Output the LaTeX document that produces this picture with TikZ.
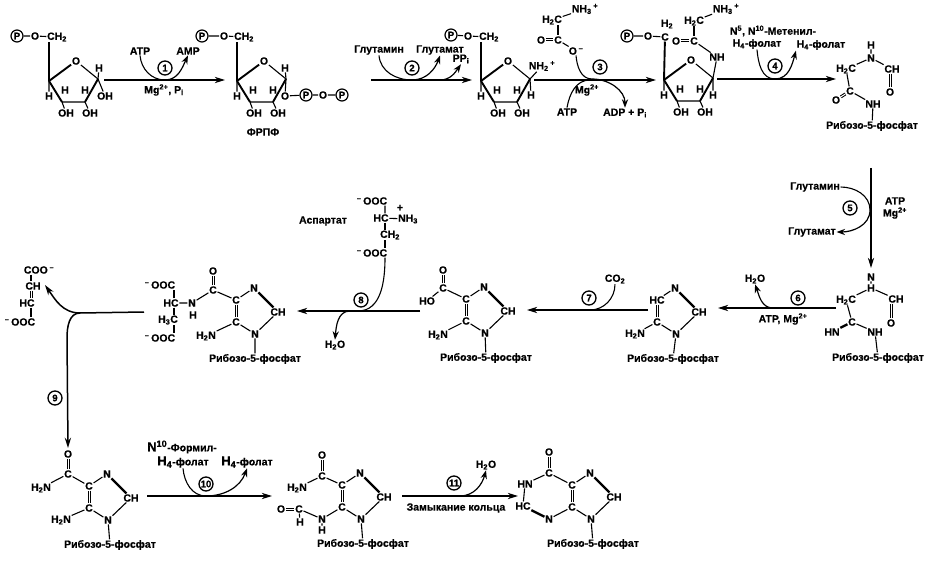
\documentclass[tikz,border=0pt]{standalone}
\usepackage{fontspec}
\setmainfont{Liberation Sans}[BoldFeatures={FakeBold=0.5}]
\usetikzlibrary{arrows.meta}
\newcommand{\sbs}[1]{\textsubscript{#1}}
\newcommand{\sps}[1]{\textsuperscript{#1}}
\newcommand{\ribo}{Рибозо-5-фосфат}
\newcommand{\folat}{H\sbs{4}-фолат}
% ribose ring, c4 at (#1,#2), names prefixed with #3
\newcommand{\furanose}[3]{%
  \begin{scope}[shift={(#1,#2)}]
  \coordinate (#3c4) at (0,0);
  \node[atom] (#3o) at (27,-20) {O};
  \coordinate (#3c1) at (49,-2);
  \coordinate (#3c2) at (36,21);
  \coordinate (#3c3) at (13,21);
  \node[atom] (#3h4) at (0,15) {H};
  \node[atom] (#3h3) at (16,9) {H};
  \node[atom] (#3h2) at (36,9) {H};
  \node[atom] (#3oh3) at (17,32) {OH};
  \node[atom] (#3oh2) at (41,32) {OH};
  \draw[bond] (#3o) -- (#3c1) (#3c3) -- (#3c2) (#3c3) -- (#3oh3) (#3c2) -- (#3oh2) (#3c4) -- (#3h4);
  \draw[wedge] (#3c4) -- (#3o) (#3c4) -- (#3c3) (#3c1) -- (#3c2);
  \end{scope}}
% imidazole ring, lower N at (#1,#2), names prefixed with #3, #4 = top C, #5 = x of ribose label
\newcommand{\imidazole}[5]{%
  \begin{scope}[shift={(#1,#2)}]
  \node[atom] (#3n9) at (0,0) {N};
  \node[atom] (#3c5) at (-19,-34) {#4};
  \node[atom] (#3n7) at (-1,-46) {N};
  \node[atom] (#3c8) at (23,-22) {CH};
  \node[atom] (#3c4) at (-19,-12) {C};
  \node[atom] (#3rib) at (#5,25) {\ribo};
  \draw[bond] (#3c5) -- (#3n7) (#3c8) -- (#3n9) (#3c4) -- (#3n9) (#3n9) -- (#3rib);
  \draw[dbl] (#3n7) -- (#3c8);
  \draw[dbond] (#3c5) -- (#3c4);
  \end{scope}}

\begin{document}
\begin{tikzpicture}[x=1pt,y=-1pt,
  atom/.style={inner sep=.6pt,font=\fontsize{10.5}{11}\selectfont\bfseries},
  lbl/.style={inner sep=.6pt,align=center,font=\fontsize{10.5}{12}\selectfont\bfseries},
  pcirc/.style={circle,draw,line width=1.2pt,inner sep=.4pt,minimum size=12pt,font=\fontsize{9.5}{10}\selectfont\bfseries},
  stepn/.style={circle,draw,line width=1.3pt,inner sep=0pt,minimum size=14pt,font=\fontsize{9.5}{10}\selectfont\bfseries},
  bond/.style={line width=1.1pt},
  dbond/.style={preaction={draw=black,line width=3pt},draw=white,line width=1pt},
  wedge/.style={line width=1.9pt},
  dbl/.style={line width=2.4pt},
  ar/.style={-{Stealth[length=3.6mm,width=2.2mm]},line width=1.5pt},
  curv/.style={line width=1.1pt},
  curvar/.style={-{Stealth[length=3mm,width=2.2mm]},line width=1.2pt}]
\useasboundingbox (0,0) rectangle (931,561);

% first ribose
\node[pcirc] (p1) at (17,36) {P};
\node[atom] (o1) at (35,36) {O};
\node[atom] (ch1) at (57,37) {CH\sbs{2}};
\furanose{49}{81}{r1}
\node[atom] (r1h1) at (99,68) {H};
\node[atom] (r1oh1) at (105,96) {OH};
\draw[bond] (p1) -- (o1) -- (ch1);
\draw[wedge] (r1c4) -- (r1c4 |- ch1.south);
\draw[bond] (r1c1) -- (r1h1) (r1c1) -- (r1oh1);

% step 1
\coordinate (a1s) at (104,80);
\coordinate (a1e) at (225,80);
\coordinate (t1) at (165,80);
\node[lbl] (atp1) at (140,51) {ATP};
\node[lbl] (amp1) at (188,51) {AMP};
\node[stepn] (n1) at (165,68) {1};
\node[lbl] (mg1) at (164,90) {Mg\sps{2+}, P\sbs{i}};
\draw[ar] (a1s) -- (a1e);
\draw[curv] (atp1.south) to[out=-85,in=180] (t1);
\draw[curvar] (t1) to[out=0,in=-115] (amp1.south);

% PRPP
\node[pcirc] (p2) at (202,36) {P};
\node[atom] (o2) at (224,36) {O};
\node[atom] (ch2) at (244,37) {CH\sbs{2}};
\furanose{237}{81}{r2}
\node[atom] (r2h1) at (285,68) {H};
\node[atom] (r2o1) at (285,96) {O};
\node[pcirc] (p2a) at (306,95) {P};
\node[atom] (o2a) at (323,95) {O};
\node[pcirc] (p2b) at (342,95) {P};
\node[atom] (prpp) at (263,132) {ФРПФ};
\draw[bond] (p2) -- (o2) -- (ch2);
\draw[wedge] (r2c4) -- (r2c4 |- ch2.south);
\draw[bond] (r2c1) -- (r2h1) (r2c1) -- (r2o1) -- (p2a) -- (o2a) -- (p2b);

% step 2
\coordinate (a2s) at (371,80);
\coordinate (a2e) at (472,80);
\coordinate (t2) at (412,80);
\coordinate (t2b) at (440,80);
\node[lbl] (gln2) at (379,50) {Глутамин};
\node[lbl] (glu2) at (440,50) {Глутамат};
\node[lbl] (ppi2) at (461,59) {PP\sbs{i}};
\node[stepn] (n2) at (412,68) {2};
\draw[ar] (a2s) -- (a2e);
\draw[curv] (gln2.south) to[out=-85,in=180] (t2);
\draw[curvar] (t2) to[out=0,in=-110] (glu2.south);
\draw[curvar] (t2b) to[out=0,in=-125] (ppi2.south);

% aminoribose
\node[pcirc] (p3) at (451,35) {P};
\node[atom] (o3) at (468,36) {O};
\node[atom] (ch3) at (489,37) {CH\sbs{2}};
\furanose{481}{81}{r3}
\node[atom] (r3nh) at (542,66) {NH\sbs{2}\,\sps{+}};
\node[atom] (r3h1) at (531,95) {H};
\draw[bond] (p3) -- (o3) -- (ch3);
\draw[wedge] (r3c4) -- (r3c4 |- ch3.south);
\draw[bond] (r3c1) -- (r3nh) (r3c1) -- (r3h1);

% step 3
\coordinate (a3s) at (534,80);
\coordinate (a3e) at (656,80);
\coordinate (t3) at (592,79);
\coordinate (t3b) at (590,80);
\node[atom] (gnh) at (585,9) {NH\sbs{3}\,\sps{+}};
\node[atom] (gch) at (552,20) {H\sbs{2}C};
\node[atom] (gc) at (558,40) {C};
\node[atom] (go) at (541,40) {O};
\node[atom] (goo) at (576,51) {O\,\sps{--}};
\node[stepn] (n3) at (600,67) {3};
\node[lbl] (mg3) at (587,90) {Mg\sps{2+}};
\node[lbl] (atp3) at (567,112) {ATP};
\node[lbl] (adp3) at (625,113) {ADP + P\sbs{i}};
\draw[bond] (gch) -- (gnh);
\draw[bond] (gc |- gch.south) -- (gc);
\draw[bond] (gc) -- (goo);
\draw[dbond] (go) -- (gc);
\draw[ar] (a3s) -- (a3e);
\draw[curv] (goo.south) to[out=-85,in=180] (t3);
\draw[curvar] (t3) to[out=0,in=90] (adp3.north);
\draw[curv] (atp3.north) to[out=80,in=180] (t3b);

% fourth ribose
\node[pcirc] (p4) at (627,36) {P};
\node[atom] (o4) at (648,36) {O};
\node[atom] (c4) at (665,37) {C};
\node[atom] (h4) at (667,24) {H\sbs{2}};
\furanose{664}{80}{r4}
\node[atom] (r4nh) at (717,57) {NH};
\node[atom] (r4h1) at (713,95) {H};
\node[atom] (hnh) at (726,9) {NH\sbs{3}\,\sps{+}};
\node[atom] (hch) at (694,21) {H\sbs{2}C};
\node[atom] (hc) at (694,41) {C};
\node[atom] (ho) at (676,41) {O};
\draw[bond] (p4) -- (o4) -- (c4);
\draw[wedge] (r4c4) -- (c4);
\draw[bond] (r4c1) -- (r4nh) (r4c1) -- (r4h1) (hc) -- (r4nh) (hch) -- (hnh);
\draw[bond] (hc |- hch.south) -- (hc);
\draw[dbond] (ho) -- (hc);

% step 4
\coordinate (a4s) at (717,79);
\coordinate (a4e) at (836,79);
\coordinate (t4) at (775,79);
\node[lbl] (met4) at (773,31) {N\sps{5}, N\sps{10}-Метенил-};
\node[lbl] (fol4) at (757,44) {\folat};
\node[lbl] (fol4b) at (821,45) {\folat};
\node[stepn] (n4) at (775,66) {4};
\draw[ar] (a4s) -- (a4e);
\draw[curv] (fol4.south) to[out=-85,in=180] (t4);
\draw[curvar] (t4) to[out=0,in=-105] (fol4b.south west);

% open chain, top
\node[atom] (s5h) at (871,45) {H};
\node[atom] (s5n) at (871,58) {N};
\node[atom] (s5ch) at (892,69) {CH};
\node[atom] (s5o) at (890,92) {O};
\node[atom] (s5ch2) at (846,69) {H\sbs{2}C};
\node[atom] (s5c) at (850,91) {C};
\node[atom] (s5ok) at (836,100) {O};
\node[atom] (s5nh) at (873,104) {NH};
\node[atom] (s5rib) at (872,126) {\ribo};
\draw[bond] (s5h) -- (s5n) (s5n) -- (s5ch) (s5n) -- (s5ch2) (s5ch2) -- (s5c) (s5c) -- (s5nh) (s5nh) -- (s5rib);
\draw[dbond] (s5ch.south -| s5o) -- (s5o);
\draw[dbond] (s5ok) -- (s5c);

% step 5
\coordinate (a5s) at (871,168);
\coordinate (a5e) at (871,268);
\coordinate (t5) at (870,210);
\node[lbl] (gln5) at (815,187) {Глутамин};
\node[lbl] (glu5) at (812,232) {Глутамат};
\node[stepn] (n5) at (850,208) {5};
\node[lbl] (atp5) at (895,208) {ATP\\Mg\sps{2+}};
\draw[ar] (a5s) -- (a5e);
\draw[curv] (gln5.east) to[out=0,in=90] (t5);
\draw[curvar] (t5) to[out=-90,in=0] (glu5.east);

% open chain, amidine
\node[atom] (s6n) at (871,277) {N};
\node[atom] (s6h) at (871,288) {H};
\node[atom] (s6ch) at (896,299) {CH};
\node[atom] (s6o) at (891,323) {O};
\node[atom] (s6ch2) at (846,300) {H\sbs{2}C};
\node[atom] (s6c) at (852,322) {C};
\node[atom] (s6hn) at (832,332) {HN};
\node[atom] (s6nh) at (875,332) {NH};
\node[atom] (s6rib) at (878,358) {\ribo};
\draw[bond] (s6n) -- (s6h) (s6h) -- (s6ch) (s6h) -- (s6ch2) (s6ch2) -- (s6c) (s6c) -- (s6nh) (s6nh) -- (s6rib);
\draw[dbl] (s6hn) -- (s6c);
\draw[dbond] (s6ch.south -| s6o) -- (s6o);

% step 6
\coordinate (a6s) at (836,308);
\coordinate (a6e) at (718,308);
\coordinate (t6) at (773,308);
\node[lbl] (wat6) at (755,279) {H\sbs{2}O};
\node[stepn] (n6) at (798,298) {6};
\node[lbl] (atp6) at (783,319) {ATP, Mg\sps{2+}};
\draw[ar] (a6s) -- (a6e);
\draw[curvar] (t6) to[out=180,in=-70] (wat6.south);

% aminoimidazole
\imidazole{676}{334}{s7}{HC}{-3}
\node[atom] (s7nh2) at (635,334) {H\sbs{2}N};
\draw[bond] (s7nh2) -- (s7c4);

% step 7
\coordinate (a7s) at (648,310);
\coordinate (a7e) at (527,310);
\coordinate (t7) at (590,310);
\node[lbl] (co7) at (615,279) {CO\sbs{2}};
\node[stepn] (n7) at (589,298) {7};
\draw[ar] (a7s) -- (a7e);
\draw[curv] (co7.south) to[out=-90,in=0] (t7);

% carboxy
\imidazole{485}{333}{s8}{C}{1}
\node[atom] (s8c) at (443,288) {C};
\node[atom] (s8o) at (443,270) {O};
\node[atom] (s8ho) at (427,301) {HO};
\node[atom] (s8nh2) at (438,335) {H\sbs{2}N};
\draw[bond] (s8c) -- (s8c5) (s8c) -- (s8ho) (s8nh2) -- (s8c4);
\draw[dbond] (s8c) -- (s8o);

% aspartate
\node[atom] (aa) at (323,221) {Аспартат};
\node[atom] (ao1) at (372,201) {\sps{--}\,OOC};
\node[atom] (ahc) at (381,218) {HC};
\coordinate (abar) at (385,218);
\node[atom] (anh) at (408,219) {NH\sbs{3}};
\node[atom] (apl) at (400,208) {+};
\node[atom] (ach) at (390,235) {CH\sbs{2}};
\node[atom] (ao2) at (372,253) {\sps{--}\,OOC};
\draw[bond] (ao1.south -| abar) -- (ahc.north -| abar) (ahc) -- (anh);
\draw[bond] (ahc.south -| abar) -- (ach.north -| abar) (ach.south -| abar) -- (ao2.north -| abar);

% step 8
\coordinate (a8s) at (420,311);
\coordinate (a8e) at (297,311);
\coordinate (t8) at (358,311);
\coordinate (t8b) at (350,311);
\node[lbl] (wat8) at (335,345) {H\sbs{2}O};
\node[stepn] (n8) at (361,300) {8};
\draw[ar,line width=1.8pt] (a8s) -- (a8e);
\draw[curv] (ao2.south -| abar) to[out=-90,in=0] (t8);
\draw[curvar] (t8b) to[out=180,in=85] (wat8.north);

% SAICAR
\imidazole{255}{334}{s9}{C}{0}
\node[atom] (s9c) at (213,290) {C};
\node[atom] (s9o) at (213,271) {O};
\node[atom] (s9nh2) at (206,336) {H\sbs{2}N};
\node[atom] (s9n) at (192,303) {N};
\node[atom] (s9h) at (193,315) {H};
\node[atom] (s9hc) at (171,303) {HC};
\coordinate (s9bar) at (174,303);
\node[atom] (s9ch2) at (168,320) {H\sbs{3}C};
\node[atom] (s9o1) at (160,285) {\sps{--}\,OOC};
\node[atom] (s9o2) at (160,338) {\sps{--}\,OOC};
\draw[bond] (s9c) -- (s9c5) (s9c) -- (s9n) (s9n) -- (s9hc) (s9nh2) -- (s9c4);
\draw[bond] (s9hc.north -| s9bar) -- (s9o1.south -| s9bar) (s9hc.south -| s9bar) -- (s9ch2.north -| s9bar) (s9ch2.south -| s9bar) -- (s9o2.north -| s9bar);
\draw[dbond] (s9c) -- (s9o);

% fumarate
\node[atom] (fo1) at (39,270) {COO\,\sps{--}};
\node[atom] (fch) at (33,286) {CH};
\node[atom] (fhc) at (27,303) {HC};
\coordinate (fbar) at (31,303);
\node[atom] (fo2) at (20,322) {\sps{--}\,OOC};
\draw[bond] (fo1.south -| fbar) -- (fch.north -| fbar) (fhc.south -| fbar) -- (fo2.north -| fbar);
\draw[dbond] (fch.south -| fbar) -- (fhc.north -| fbar);

% step 9
\coordinate (a9s) at (144,312);
\coordinate (j9) at (80,313);
\coordinate (f9) at (45,285);
\coordinate (d9) at (67,338);
\coordinate (a9e) at (68,448);
\node[stepn] (n9) at (55,398) {9};
\draw[line width=1.5pt] (a9s) -- (j9);
\draw[ar] (j9) to[out=180,in=-55] (f9);
\draw[line width=1.5pt] (j9) to[out=180,in=90] (d9);
\draw[ar] (d9) -- (a9e);

% AICAR
\imidazole{108}{520}{s10}{C}{2}
\node[atom] (s10c) at (68,474) {C};
\node[atom] (s10o) at (68,454) {O};
\node[atom] (s10am) at (41,488) {H\sbs{2}N};
\node[atom] (s10nh2) at (61,520) {H\sbs{2}N};
\draw[bond] (s10c) -- (s10c5) (s10c) -- (s10am) (s10nh2) -- (s10c4);
\draw[dbond] (s10c) -- (s10o);

% step 10
\coordinate (a10s) at (147,496);
\coordinate (a10e) at (272,496);
\coordinate (t10) at (206,496);
\node[lbl] (for10) at (182,447) {{\fontsize{13}{13}\selectfont N\sps{10}}-Формил-};
\node[lbl] (fol10) at (183,462) {{\fontsize{13}{13}\selectfont H\sbs{4}}-фолат};
\node[lbl] (fol10b) at (247,462) {{\fontsize{13}{13}\selectfont H\sbs{4}}-фолат};
\node[stepn] (n10) at (206,484) {10};
\draw[ar] (a10s) -- (a10e);
\draw[curv] (fol10.south) to[out=-85,in=180] (t10);
\draw[curvar] (t10) to[out=0,in=-110] (fol10b.south);

% FAICAR
\imidazole{361}{519}{s11}{C}{2}
\node[atom] (s11c) at (322,476) {C};
\node[atom] (s11o) at (322,455) {O};
\node[atom] (s11am) at (297,488) {H\sbs{2}N};
\node[atom] (s11n) at (322,519) {N};
\node[atom] (s11h) at (322,530) {H};
\node[atom] (s11f) at (299,509) {C};
\node[atom] (s11ho) at (300,522) {H};
\node[atom] (s11fo) at (281,509) {O};
\draw[bond] (s11c) -- (s11c5) (s11c) -- (s11am) (s11n) -- (s11c4) (s11n) -- (s11f) (s11n) -- (s11h) (s11f) -- (s11ho);
\draw[dbond] (s11c) -- (s11o);
\draw[dbond] (s11fo) -- (s11f);

% step 11
\coordinate (a11s) at (402,496);
\coordinate (a11e) at (518,496);
\coordinate (t11) at (460,496);
\node[lbl] (wat11) at (486,465) {H\sbs{2}O};
\node[stepn] (n11) at (454,483) {11};
\node[lbl] (cl11) at (456,508) {Замыкание кольца};
\draw[ar] (a11s) -- (a11e);
\draw[curvar] (t11) to[out=0,in=-105] (wat11.south);

% IMP
\imidazole{591}{519}{s12}{C}{2}
\node[atom] (s12c) at (549,473) {C};
\node[atom] (s12o) at (549,452) {O};
\node[atom] (s12hn) at (525,484) {HN};
\node[atom] (s12hc) at (523,506) {HC};
\node[atom] (s12n) at (549,519) {N};
\draw[bond] (s12c) -- (s12c5) (s12c) -- (s12hn) (s12hn) -- (s12hc) (s12n) -- (s12c4);
\draw[dbl] (s12hc) -- (s12n);
\draw[dbond] (s12c) -- (s12o);
\end{tikzpicture}
\end{document}
